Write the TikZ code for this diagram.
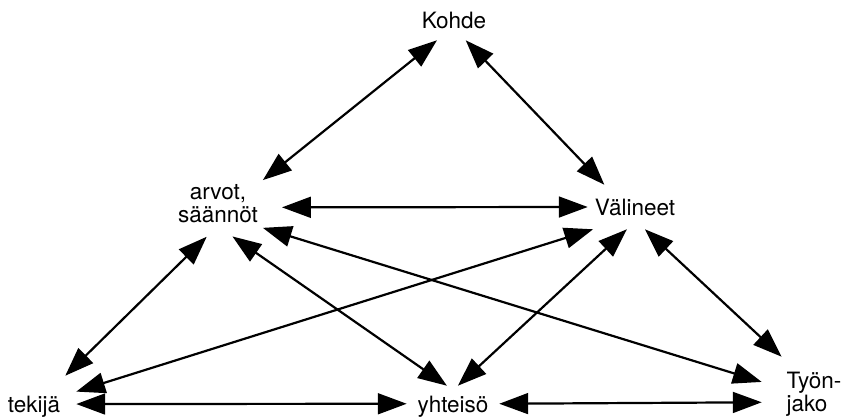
\documentclass[tikz,border=0pt]{standalone}
\usepackage{fontspec}
\setmainfont{TeX Gyre Heros}
\usetikzlibrary{arrows.meta,shapes.geometric}

\begin{document}
\begin{tikzpicture}[x=0.025cm,y=-0.025cm,
    lbl/.style={inner sep=0pt,font=\fontsize{16}{16.5}\selectfont},
    link/.style={{Triangle[length=0.72cm,width=0.52cm]}-{Triangle[length=0.72cm,width=0.52cm]},line width=0.055cm}]
    \useasboundingbox (0,0) rectangle (846,418);
    % labels
    \node[lbl,minimum width=1.7cm,minimum height=1cm] (kohde) at (454,20) {Kohde};
    \node[lbl,ellipse,align=center,minimum width=3.2cm,minimum height=1.65cm] (arvot) at (218,204) {arvot,\\säännöt};
    \node[lbl,minimum width=2.35cm,minimum height=1.1cm] (valineet) at (635,207) {Välineet};
    \node[lbl,minimum width=2.1cm,minimum height=1.55cm] (tekija) at (34,407) {tekijä};
    \node[lbl,minimum width=2.3cm,minimum height=1.05cm] (yhteiso) at (453,407) {yhteisö};
    \node[lbl,align=left,minimum width=2.6cm,minimum height=1.85cm] (tyonjako) at (814,394) {Työn-\\jako};
    % connections
    \draw[link] (kohde.-130) -- (arvot.28);
    \draw[link] (kohde.-60) -- (valineet.144);
    \draw[link] (arvot.-3) -- (valineet.180);
    \draw[link] (arvot.-109) -- (tekija.45);
    \draw[link] (arvot.-66) -- (yhteiso.106);
    \draw[link] (arvot.-28) -- (tyonjako.167);
    \draw[link] (valineet.-152) -- (tekija.20);
    \draw[link] (valineet.-110) -- (yhteiso.77);
    \draw[link] (valineet.-66) -- (tyonjako.131);
    \draw[link] (tekija.4) -- (yhteiso.176);
    \draw[link] (yhteiso.4) -- (tyonjako.189);
\end{tikzpicture}
\end{document}
